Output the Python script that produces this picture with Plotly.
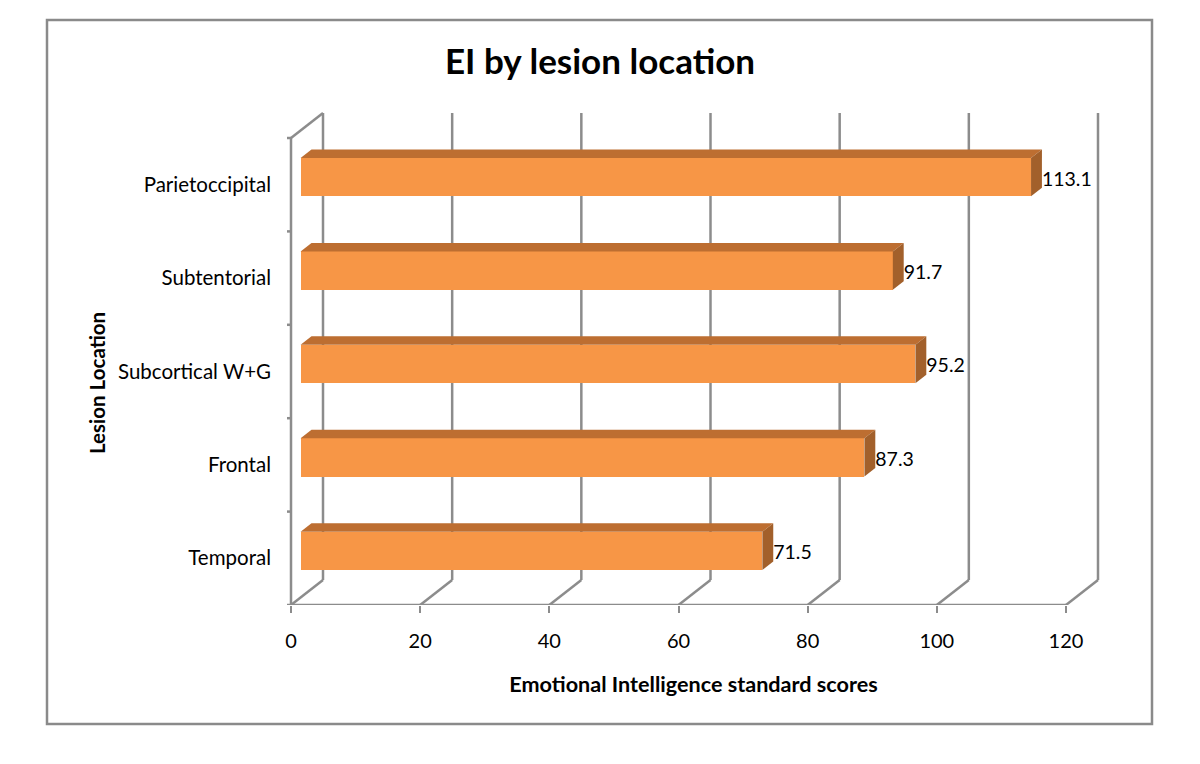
import plotly.graph_objects as go

# ---- data ----
categories = ["Temporal", "Frontal", "Subcortical W+G", "Subtentorial", "Parietoccipital"]
scores = [71.5, 87.3, 95.2, 91.7, 113.1]
x_ticks = [0, 20, 40, 60, 80, 100, 120]
value_labels = ["71.5", "87.3", "95.2", "91.7", "113.1"]

title_text = "EI by lesion location"
x_title = "Emotional Intelligence standard scores"
y_title = "Lesion Location"

# ---- layout geometry (page has an 8px body margin) ----
OFF = 8
W, H = 1200 - OFF, 764 - OFF
L, R, T, B = 287 - OFF, 100, 106 - OFF, 159
KX = 775 / 120.0          # px per x unit
KY = 93.4                 # px per category
PW, PH = W - L - R, H - T - B
x0_unit = -4 / KX
x_range = [x0_unit, x0_unit + PW / KX]
y_range = [-0.5, -0.5 + PH / KY]
DX = 32 / KX              # depth offset (x units)
DY = 25 / KY              # depth offset (y units)
F0, F1 = 0.30, 0.64       # bar depth span
BAR_H = 0.41
LABEL_DY = 3.5 / KY       # nudge of value labels
n = len(categories)
y_lo, y_hi = -0.5, n - 0.5
x_end = x_ticks[-1]

GRID = "#8c8c8c"
FRONT = "#f79646"
TOP = "#bd6e31"
SIDE = "#a2602b"
FONT = "Lato"


def px_to_paper_x(px):
    return (px - OFF - L) / PW


def px_to_paper_y(py):
    return (H - B - (py - OFF)) / PH


fig = go.Figure()

# top faces and side faces of bars
for i, v in enumerate(scores):
    yb = i + DY * F0
    b0 = DX * F0
    d = DX * (F1 - F0)
    e = DY * (F1 - F0)
    top = yb + BAR_H / 2
    bot = yb - BAR_H / 2
    fig.add_trace(go.Scatter(
        x=[b0, b0 + v, b0 + v + d, b0 + d, b0],
        y=[top, top, top + e, top + e, top],
        fill="toself", fillcolor=TOP, mode="lines",
        line=dict(width=0, color=TOP), hoverinfo="skip", showlegend=False))
    fig.add_trace(go.Scatter(
        x=[b0 + v, b0 + v + d, b0 + v + d, b0 + v, b0 + v],
        y=[bot, bot + e, top + e, top, bot],
        fill="toself", fillcolor=SIDE, mode="lines",
        line=dict(width=0, color=SIDE), hoverinfo="skip", showlegend=False))

# front faces
fig.add_trace(go.Bar(
    orientation="h",
    y=[i + DY * F0 for i in range(n)],
    x=scores,
    base=DX * F0,
    width=BAR_H,
    marker=dict(color=FRONT, line=dict(width=0)),
    showlegend=False, hoverinfo="skip"))

# value labels
fig.add_trace(go.Scatter(
    x=[v + DX * F1 for v in scores],
    y=[i + DY * F0 - LABEL_DY for i in range(n)],
    mode="text", text=value_labels, textposition="middle right",
    textfont=dict(family=FONT, size=19.5, color="#000000"),
    showlegend=False, hoverinfo="skip", cliponaxis=False))

shapes = []
line = dict(color=GRID, width=2.5)
# back wall vertical gridlines + floor diagonals
for v in x_ticks:
    shapes.append(dict(type="line", xref="x", yref="y", layer="below",
                       x0=v + DX, y0=y_lo + DY, x1=v + DX, y1=y_hi + DY, line=line))
    shapes.append(dict(type="line", xref="x", yref="y", layer="below",
                       x0=v, y0=y_lo, x1=v + DX, y1=y_lo + DY, line=line))
# front axes
shapes.append(dict(type="line", xref="x", yref="y", layer="below",
                   x0=0, y0=y_lo, x1=x_end, y1=y_lo, line=line))
shapes.append(dict(type="line", xref="x", yref="y", layer="below",
                   x0=0, y0=y_lo, x1=0, y1=y_hi, line=line))
shapes.append(dict(type="line", xref="x", yref="y", layer="below",
                   x0=0, y0=y_hi, x1=DX, y1=y_hi + DY, line=line))
# y boundary ticks
for k in range(n + 1):
    shapes.append(dict(type="line", xref="x", yref="y", layer="below",
                       x0=x0_unit, y0=y_lo + k, x1=0, y1=y_lo + k, line=line))
# outer frame
shapes.append(dict(type="rect", xref="paper", yref="paper",
                   x0=px_to_paper_x(47), y0=px_to_paper_y(724),
                   x1=px_to_paper_x(1152), y1=px_to_paper_y(20),
                   line=dict(color="#8a8a8a", width=2.5), fillcolor="rgba(0,0,0,0)"))

fig.update_layout(
    width=W, height=H,
    margin=dict(l=L, r=R, t=T, b=B, autoexpand=False),
    paper_bgcolor="white", plot_bgcolor="white",
    font=dict(family=FONT, color="#000000"),
    title=dict(text="<b>" + title_text + "</b>", x=(600 - OFF) / W, xref="container",
               y=1 - (62 - OFF) / H, yref="container", xanchor="center", yanchor="middle",
               font=dict(family=FONT, size=35, color="#000000")),
    shapes=shapes,
    bargap=0,
    xaxis=dict(range=x_range, tickvals=x_ticks, ticktext=[str(t) for t in x_ticks],
               showgrid=False, zeroline=False, showline=False,
               ticks="outside", ticklen=7, tickwidth=2, tickcolor=GRID,
               ticklabelstandoff=11,
               tickfont=dict(family=FONT, size=20, color="#000000"),
               title=dict(text="<b>" + x_title + "</b>", standoff=25,
                          font=dict(family=FONT, size=21.6, color="#000000"))),
    yaxis=dict(range=y_range, tickvals=list(range(n)), ticktext=categories,
               showgrid=False, zeroline=False, showline=False, ticks="",
               ticklabelstandoff=15,
               tickfont=dict(family=FONT, size=20.5, color="#000000")),
    annotations=[dict(text="<b>" + y_title + "</b>", textangle=-90,
                      xref="paper", yref="paper",
                      x=px_to_paper_x(97), y=px_to_paper_y(383),
                      xanchor="center", yanchor="middle", showarrow=False,
                      font=dict(family=FONT, size=20.5, color="#000000"))],
)

fig.write_html("out.html")
